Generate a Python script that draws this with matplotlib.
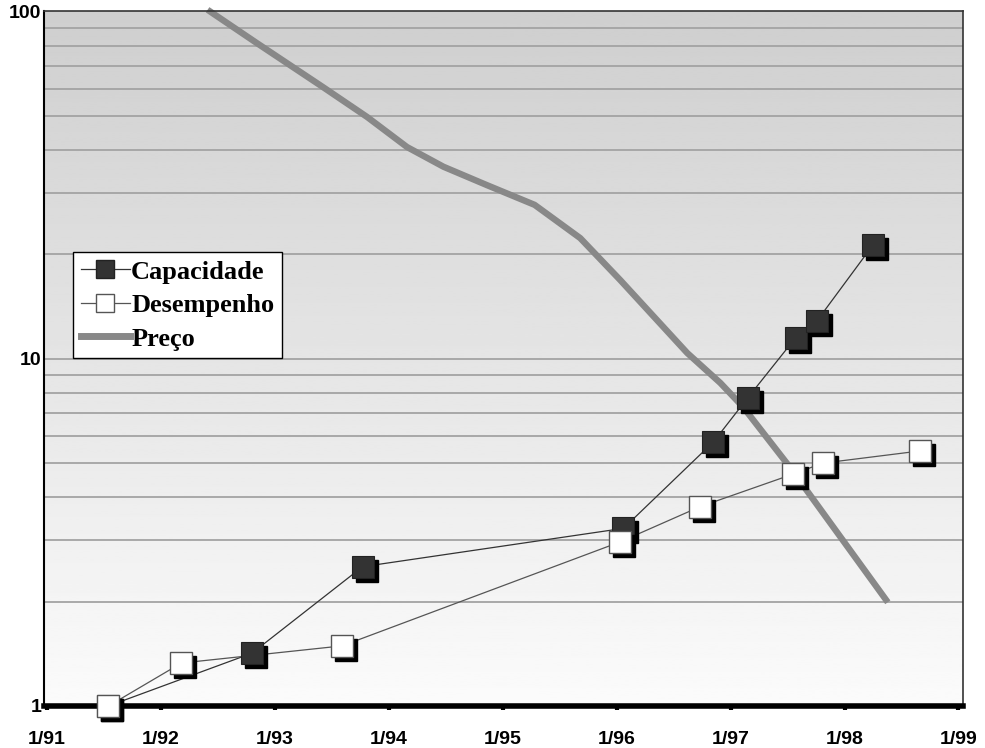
import numpy as np
import matplotlib
matplotlib.use("Agg")
import matplotlib.pyplot as plt
import matplotlib.ticker as mticker
from matplotlib.transforms import offset_copy
from matplotlib.lines import Line2D

# decimal years on x, relative index (log scale) on y
cap_x = [1991.54, 1992.80, 1993.77, 1996.06, 1996.85, 1997.15, 1997.57, 1997.76, 1998.25]
cap_y = [1.0, 1.42, 2.52, 3.25, 5.77, 7.72, 11.5, 12.9, 21.3]

des_x = [1991.54, 1992.18, 1993.59, 1996.03, 1996.73, 1997.55, 1997.81, 1998.66]
des_y = [1.0, 1.33, 1.49, 2.97, 3.75, 4.66, 5.01, 5.43]

preco_x = [1992.41, 1992.84, 1993.42, 1993.81, 1994.16, 1994.48, 1994.86, 1995.28,
           1995.68, 1996.03, 1996.62, 1996.91, 1997.11, 1997.52, 1998.38]
preco_y = [101.4, 81.4, 60.8, 49.8, 40.8, 35.8, 31.7, 27.8,
           22.3, 16.9, 10.4, 8.53, 7.27, 4.88, 1.99]

year_ticks = [1991, 1992, 1993, 1994, 1995, 1996, 1997, 1998, 1999]
year_labels = ['1/91', '1/92', '1/93', '1/94', '1/95', '1/96', '1/97', '1/98', '1/99']
y_ticks = [1, 10, 100]
y_labels = ['1', '10', '100']

fig = plt.figure(figsize=(9.85, 7.48), dpi=100)
ax = fig.add_axes([44/985, 1-706/748, 919/985, 695/748])
ax.set_yscale('log')
ax.set_xlim(1990.974, 1999.04)
ax.set_ylim(1, 100.6)

# grey-to-white background
grad = np.linspace(0.985, 0.81, 256).reshape(-1, 1)
ax.imshow(grad, cmap='gray', vmin=0, vmax=1, aspect='auto', extent=[0, 1, 0, 1],
          transform=ax.transAxes, origin='lower', zorder=0)

# horizontal grid on every log step
for v in list(range(2, 10)) + [10] + list(range(20, 100, 10)):
    ax.axhline(v, color='#a3a3a3', lw=1.3, zorder=1)

ax.plot(preco_x, preco_y, color='#888888', lw=4.6, solid_capstyle='butt',
        solid_joinstyle='round', zorder=2, clip_on=False)
ax.plot(cap_x, cap_y, color='#333333', lw=0.9, zorder=3)
ax.plot(des_x, des_y, color='#555555', lw=0.9, zorder=3)

shadow = offset_copy(ax.transData, fig=fig, x=4, y=-4, units='dots')
ms = 15.5
ax.plot(cap_x, cap_y, 's', ms=ms, color='black', mec='black', transform=shadow,
        zorder=4, clip_on=False)
ax.plot(cap_x, cap_y, 's', ms=ms, color='#333333', mec='#222222', mew=0.8,
        zorder=5, clip_on=False)
ax.plot(des_x, des_y, 's', ms=ms, color='black', mec='black', transform=shadow,
        zorder=6, clip_on=False)
ax.plot(des_x, des_y, 's', ms=ms, color='white', mec='#555555', mew=1.0,
        zorder=7, clip_on=False)

ax.set_xticks(year_ticks)
ax.set_xticklabels(year_labels)
ax.set_yticks(y_ticks)
ax.set_yticklabels(y_labels)
ax.yaxis.set_minor_locator(mticker.NullLocator())
ax.tick_params(axis='x', direction='out', length=3, width=3, pad=15, labelsize=14,
               color='black')
ax.tick_params(axis='y', length=0, pad=2, labelsize=14)
for lab in ax.get_xticklabels() + ax.get_yticklabels():
    lab.set_fontweight('bold')
    lab.set_fontfamily('Liberation Sans')

ax.spines['left'].set_linewidth(1.5)
ax.spines['left'].set_color('black')
ax.spines['bottom'].set_linewidth(4)
ax.spines['bottom'].set_color('black')
ax.spines['top'].set_linewidth(1.2)
ax.spines['top'].set_color('#333333')
ax.spines['right'].set_linewidth(1.2)
ax.spines['right'].set_color('#333333')

handles = [
    Line2D([], [], color='#333333', lw=0.9, marker='s', ms=13, mfc='#333333', mec='#222222'),
    Line2D([], [], color='#555555', lw=0.9, marker='s', ms=13, mfc='white', mec='#555555'),
    Line2D([], [], color='#888888', lw=5),
]
leg = ax.legend(handles, ['Capacidade', 'Desempenho', 'Preço'],
                loc='upper left', bbox_to_anchor=(0.0316, 0.653), borderaxespad=0,
                prop={'family': 'Liberation Serif', 'weight': 'bold', 'size': 19},
                handlelength=1.85, handletextpad=0.05, labelspacing=0.38,
                borderpad=0.3, fancybox=False, framealpha=1, edgecolor='black')
leg.get_frame().set_linewidth(1.0)
leg.set_zorder(10)

fig.savefig('out.png', dpi=100)
